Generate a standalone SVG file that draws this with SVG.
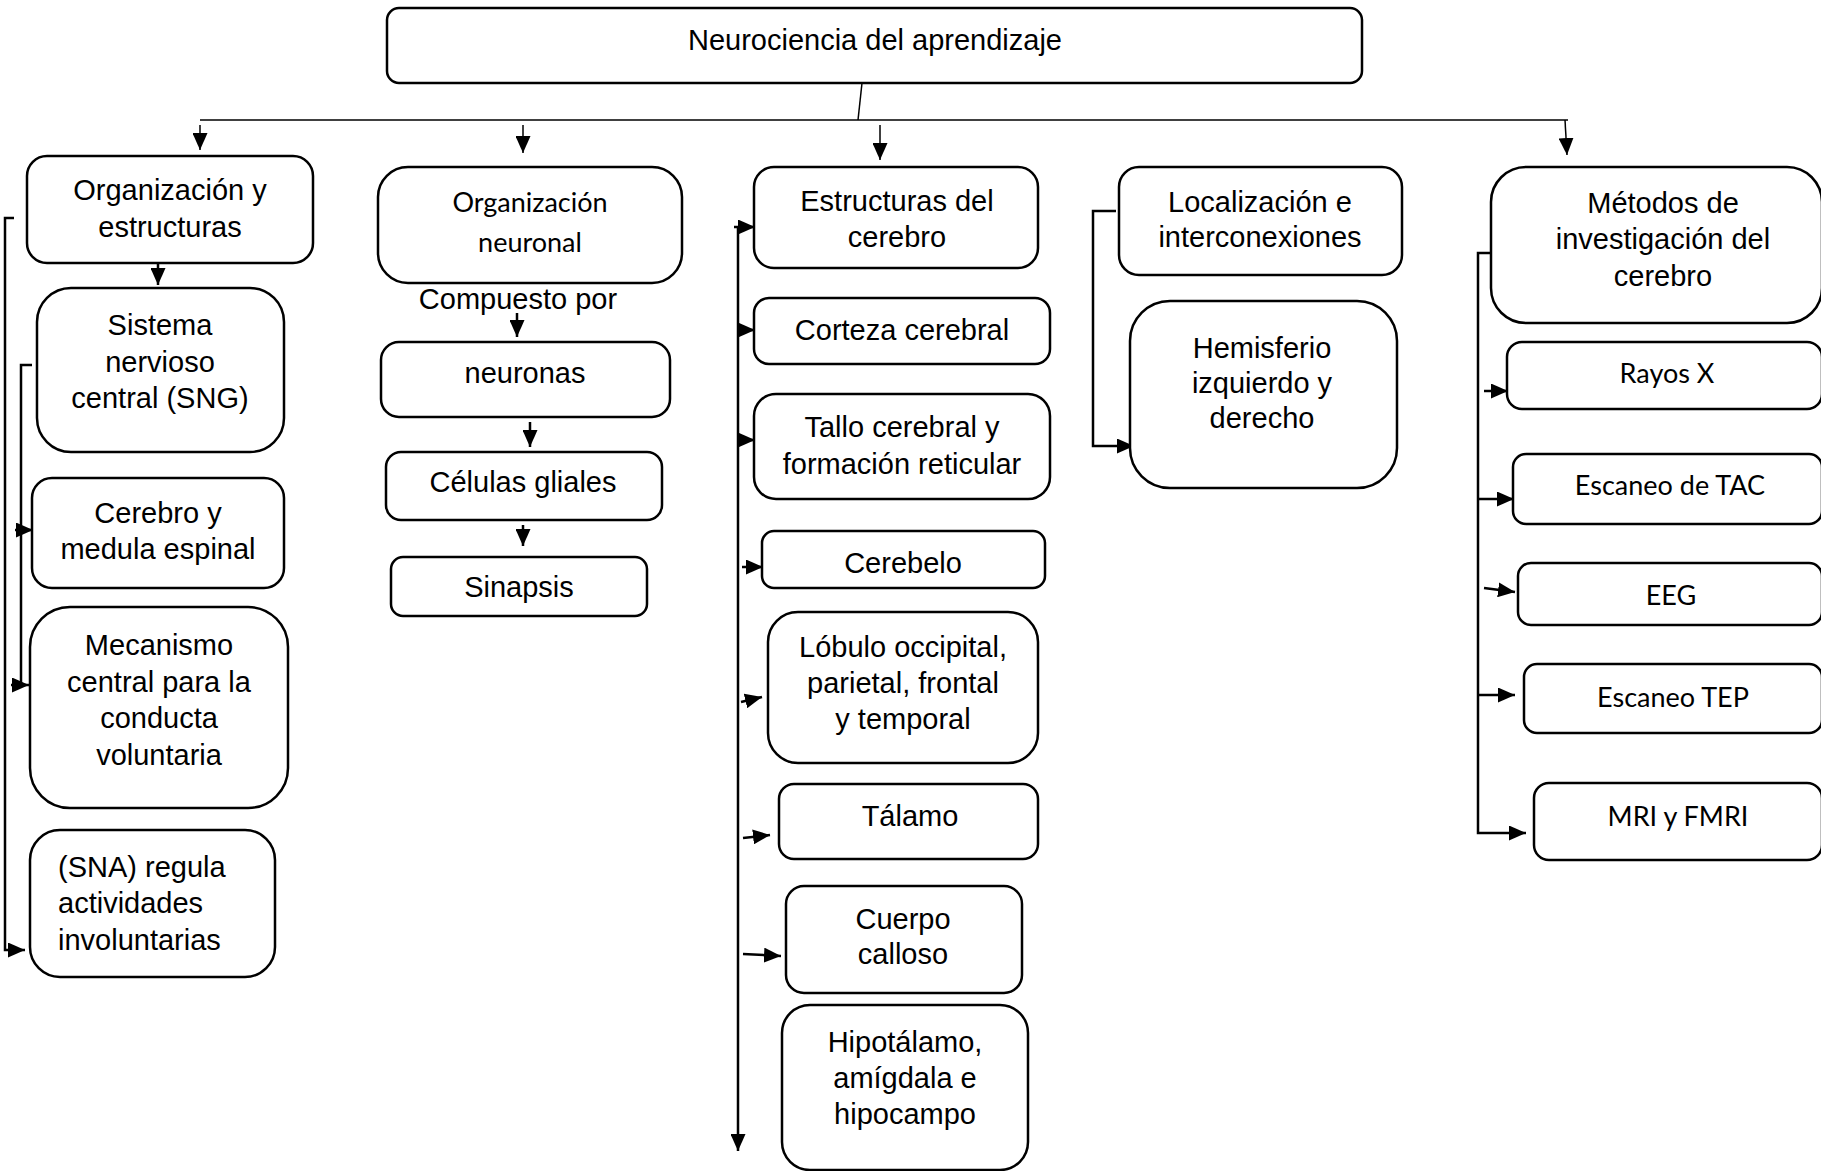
<svg xmlns="http://www.w3.org/2000/svg" width="1821" height="1171" viewBox="0 0 1821 1171">
<style>
.box{fill:#fff;stroke:#000;stroke-width:2.5}
.t{font-family:"Liberation Sans",Arial,sans-serif;font-size:29px;fill:#000;text-anchor:middle}
.c{font-family:Lato,"Noto Sans",sans-serif;font-size:27px;fill:#000;text-anchor:middle}
.ln{fill:none;stroke:#000;stroke-width:2.5}
.thin{fill:none;stroke:#000;stroke-width:1.5}
.ar{fill:none;stroke:#000;stroke-width:2.5;marker-end:url(#ah)}
.art{fill:none;stroke:#000;stroke-width:1.5;marker-end:url(#ah)}
</style>
<defs>
<marker id="ah" markerUnits="userSpaceOnUse" markerWidth="17" markerHeight="15" refX="17" refY="7.5" orient="auto" viewBox="0 0 17 15">
<path d="M0,0 L17,7.5 L0,15 z" fill="#000"/>
</marker>
</defs>
<rect width="1821" height="1171" fill="#fff"/>

<g id="connectors">
<path class="thin" d="M862,83 L858,120"/>
<path class="thin" d="M200,120 H1568"/>
<path class="art" d="M200,125 V150"/>
<path class="art" d="M523,125 V153"/>
<path class="art" d="M880,125 V160"/>
<path class="art" d="M1565,120 L1567,155"/>
<path class="ar" d="M158,264 V285"/>
<path class="ar" d="M14,218 H5 V950 H25"/>
<path class="ln" d="M32,365 H21 V686"/>
<path class="ar" d="M15,530 H33"/>
<path class="ar" d="M11,685 H29"/>
<path class="ar" d="M517,313 V337"/>
<path class="ar" d="M530,422 V447"/>
<path class="ar" d="M523,525 V546"/>
<path class="ar" d="M734,227 H738 V1151"/>
<path class="ar" d="M738,227 H755"/>
<path class="ar" d="M738,330 H755"/>
<path class="ar" d="M738,440 H755"/>
<path class="ar" d="M742,567 H763"/>
<path class="ar" d="M741,702 L762,697"/>
<path class="ar" d="M743,838 L770,835"/>
<path class="ar" d="M743,954 L781,956"/>
<path class="ar" d="M1116,211 H1093 V446 H1134"/>
<path class="ar" d="M1497,253 H1478 V833 H1526"/>
<path class="ar" d="M1484,391 H1508"/>
<path class="ar" d="M1478,499 H1514"/>
<path class="ar" d="M1484,588 L1515,592"/>
<path class="ar" d="M1478,695 H1515"/>
</g>

<g id="n-root"><rect class="box" x="387" y="8" width="975" height="75" rx="12"/><text class="t" x="875" y="50">Neurociencia del aprendizaje</text></g>

<g id="n-org"><rect class="box" x="27" y="156" width="286" height="107" rx="20"/><text class="t" x="170" y="200">Organización y</text><text class="t" x="170" y="237">estructuras</text></g>
<g id="n-sng"><rect class="box" x="37" y="288" width="247" height="164" rx="34"/><text class="t" x="160" y="335">Sistema</text><text class="t" x="160" y="372">nervioso</text><text class="t" x="160" y="408">central (SNG)</text></g>
<g id="n-cer"><rect class="box" x="32" y="478" width="252" height="110" rx="20"/><text class="t" x="158" y="523">Cerebro y</text><text class="t" x="158" y="559">medula espinal</text></g>
<g id="n-mec"><rect class="box" x="30" y="607" width="258" height="201" rx="40"/><text class="t" x="159" y="655">Mecanismo</text><text class="t" x="159" y="692">central para la</text><text class="t" x="159" y="728">conducta</text><text class="t" x="159" y="765">voluntaria</text></g>
<g id="n-sna"><rect class="box" x="30" y="830" width="245" height="147" rx="30"/><text class="t" x="58" y="877" style="text-anchor:start">(SNA) regula</text><text class="t" x="58" y="913" style="text-anchor:start">actividades</text><text class="t" x="58" y="950" style="text-anchor:start">involuntarias</text></g>

<g id="n-orgn"><rect class="box" x="378" y="167" width="304" height="116" rx="30"/><text class="c" x="530" y="212">Organización</text><text class="c" x="530" y="252">neuronal</text></g>
<g id="n-comp"><text class="t" x="518" y="309">Compuesto por</text></g>
<g id="n-neu"><rect class="box" x="381" y="342" width="289" height="75" rx="18"/><text class="t" x="525" y="383">neuronas</text></g>
<g id="n-gli"><rect class="box" x="386" y="452" width="276" height="68" rx="15"/><text class="t" x="523" y="492">Células gliales</text></g>
<g id="n-sin"><rect class="box" x="391" y="557" width="256" height="59" rx="12"/><text class="t" x="519" y="597">Sinapsis</text></g>

<g id="n-est"><rect class="box" x="754" y="167" width="284" height="101" rx="20"/><text class="t" x="897" y="211">Estructuras del</text><text class="t" x="897" y="247">cerebro</text></g>
<g id="n-cor"><rect class="box" x="754" y="298" width="296" height="66" rx="15"/><text class="t" x="902" y="340">Corteza cerebral</text></g>
<g id="n-tal"><rect class="box" x="754" y="394" width="296" height="105" rx="22"/><text class="t" x="902" y="437">Tallo cerebral y</text><text class="t" x="902" y="474">formación reticular</text></g>
<g id="n-cbl"><rect class="box" x="762" y="531" width="283" height="57" rx="12"/><text class="t" x="903" y="573">Cerebelo</text></g>
<g id="n-lob"><rect class="box" x="768" y="612" width="270" height="151" rx="30"/><text class="t" x="903" y="657">Lóbulo occipital,</text><text class="t" x="903" y="693">parietal, frontal</text><text class="t" x="903" y="729">y temporal</text></g>
<g id="n-tlm"><rect class="box" x="779" y="784" width="259" height="75" rx="15"/><text class="t" x="910" y="826">Tálamo</text></g>
<g id="n-cue"><rect class="box" x="786" y="886" width="236" height="107" rx="18"/><text class="t" x="903" y="929">Cuerpo</text><text class="t" x="903" y="964">calloso</text></g>
<g id="n-hip"><rect class="box" x="782" y="1005" width="246" height="165" rx="28"/><text class="t" x="905" y="1052">Hipotálamo,</text><text class="t" x="905" y="1088">amígdala e</text><text class="t" x="905" y="1124">hipocampo</text></g>

<g id="n-loc"><rect class="box" x="1119" y="167" width="283" height="108" rx="20"/><text class="t" x="1260" y="212">Localización e</text><text class="t" x="1260" y="247">interconexiones</text></g>
<g id="n-hem"><rect class="box" x="1130" y="301" width="267" height="187" rx="40"/><text class="t" x="1262" y="358">Hemisferio</text><text class="t" x="1262" y="393">izquierdo y</text><text class="t" x="1262" y="428">derecho</text></g>

<g id="n-met"><rect class="box" x="1491" y="167" width="331" height="156" rx="35"/><text class="t" x="1663" y="213">Métodos de</text><text class="t" x="1663" y="249">investigación del</text><text class="t" x="1663" y="286">cerebro</text></g>
<g id="n-ray"><rect class="box" x="1507" y="342" width="315" height="67" rx="15"/><text class="c" x="1667" y="383">Rayos X</text></g>
<g id="n-tac"><rect class="box" x="1513" y="454" width="309" height="70" rx="13"/><text class="c" x="1670" y="495">Escaneo de TAC</text></g>
<g id="n-eeg"><rect class="box" x="1518" y="563" width="304" height="62" rx="13"/><text class="c" x="1671" y="605">EEG</text></g>
<g id="n-tep"><rect class="box" x="1524" y="664" width="298" height="69" rx="13"/><text class="c" x="1673" y="707">Escaneo TEP</text></g>
<g id="n-mri"><rect class="box" x="1534" y="783" width="288" height="77" rx="15"/><text class="c" x="1678" y="826">MRI y FMRI</text></g>
</svg>
